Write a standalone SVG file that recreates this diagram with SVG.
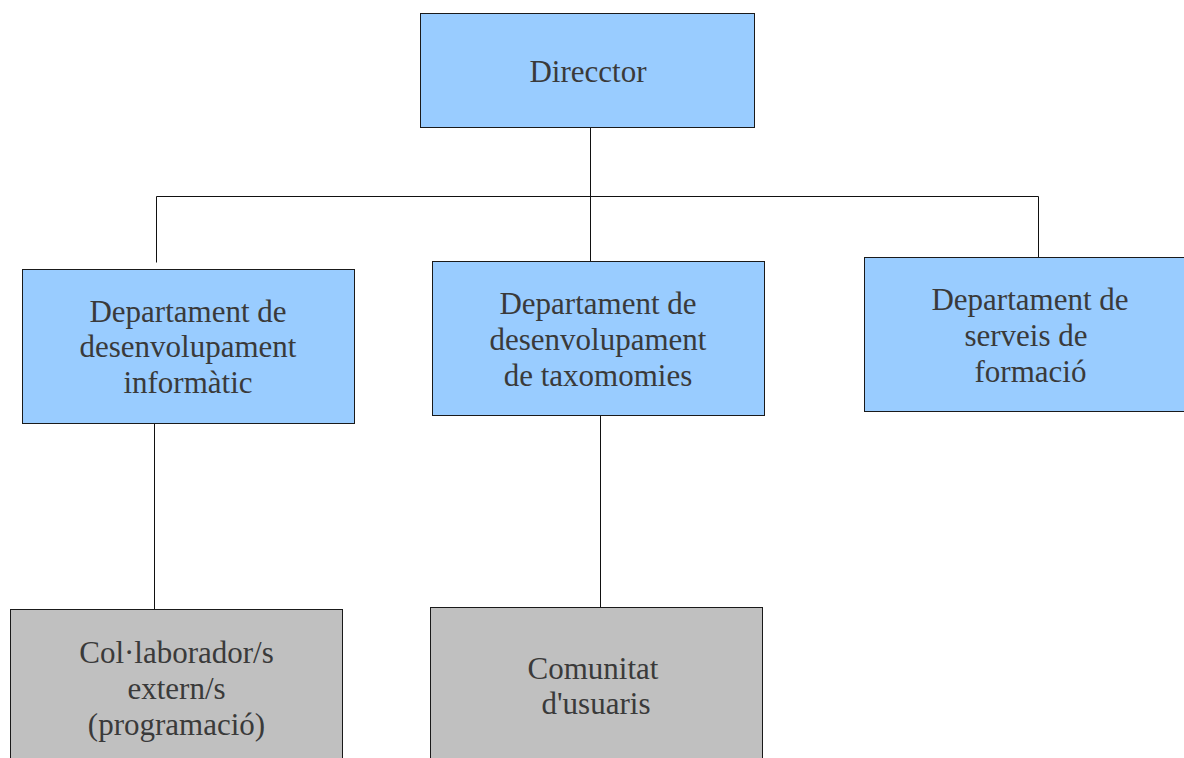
<svg xmlns="http://www.w3.org/2000/svg" width="1184" height="758" viewBox="0 0 1184 758">
<style>
.blue{fill:#99ccff;stroke:#1a1a1a;stroke-width:1}
.gray{fill:#c0c0c0;stroke:#1a1a1a;stroke-width:1}
.t{font-family:"Liberation Serif","Times New Roman",serif;font-size:31px;fill:#3a3a3a;text-anchor:middle}
.c{fill:none;stroke:#111;stroke-width:1}
</style>
<rect width="1184" height="758" fill="#ffffff"/>
<g id="connectors">
<path class="c" d="M590.5 127V261"/>
<path class="c" d="M156.5 262.5V196.5H1038.5V257"/>
<path class="c" d="M154.5 423V609"/>
<path class="c" d="M600.5 415V607"/>
</g>
<g id="director">
<rect class="blue" x="420.5" y="13.5" width="334" height="114"/>
<text class="t" x="588" y="82">Direcctor</text>
</g>
<g id="dept-informatic">
<rect class="blue" x="22.5" y="269.5" width="332" height="154"/>
<text class="t" x="188" y="321.5">Departament de</text>
<text class="t" x="188" y="357">desenvolupament</text>
<text class="t" x="188" y="393">informàtic</text>
</g>
<g id="dept-taxonomies">
<rect class="blue" x="432.5" y="261.5" width="332" height="154"/>
<text class="t" x="598" y="314">Departament de</text>
<text class="t" x="598" y="350">desenvolupament</text>
<text class="t" x="598" y="386">de taxomomies</text>
</g>
<g id="dept-formacio">
<rect class="blue" x="864.5" y="257.5" width="332" height="154"/>
<text class="t" x="1030" y="310">Departament de</text>
<text class="t" x="1026" y="346">serveis de</text>
<text class="t" x="1030.5" y="382">formació</text>
</g>
<g id="collaboradors">
<rect class="gray" x="10.5" y="609.5" width="332" height="160"/>
<text class="t" x="176.5" y="663">Col·laborador/s</text>
<text class="t" x="176.5" y="698.5">extern/s</text>
<text class="t" x="176.5" y="734.5">(programació)</text>
</g>
<g id="comunitat">
<rect class="gray" x="430.5" y="607.5" width="332" height="160"/>
<text class="t" x="593" y="678.5">Comunitat</text>
<text class="t" x="596" y="714">d'usuaris</text>
</g>
</svg>
